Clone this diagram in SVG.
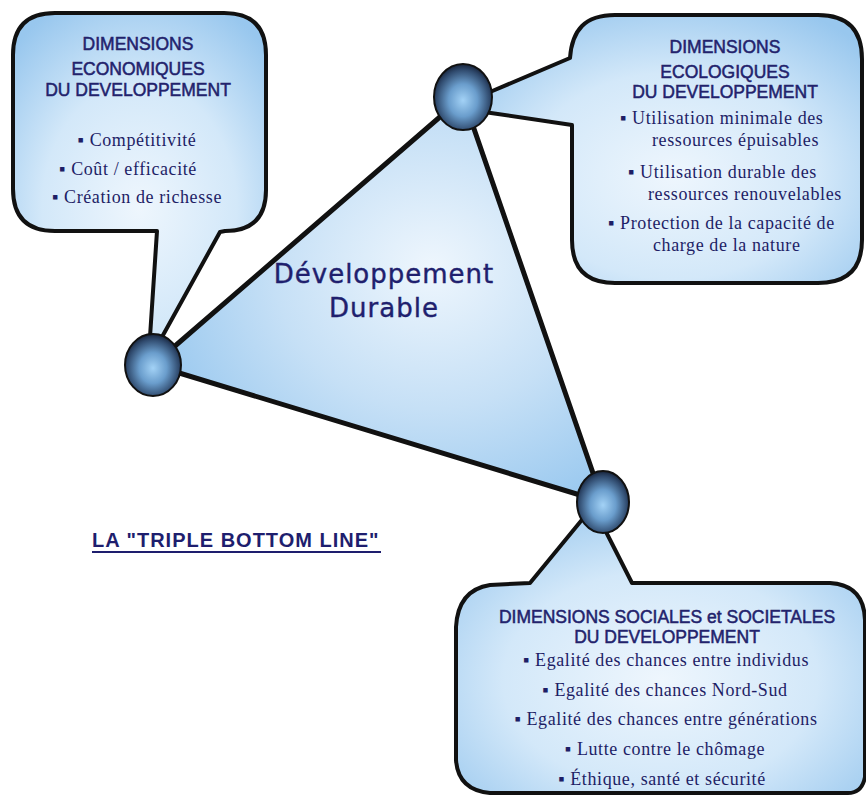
<svg xmlns="http://www.w3.org/2000/svg" width="866" height="796" viewBox="0 0 866 796">
<defs>
<radialGradient id="callout" cx="50%" cy="60%" r="70%">
<stop offset="0" stop-color="#eef6fd"/>
<stop offset="0.55" stop-color="#d3e8f9"/>
<stop offset="1" stop-color="#98c7ee"/>
</radialGradient>
<radialGradient id="tri" cx="62%" cy="42%" r="70%">
<stop offset="0" stop-color="#eef6fd"/>
<stop offset="0.5" stop-color="#c6e0f6"/>
<stop offset="1" stop-color="#93c5ee"/>
</radialGradient>
<radialGradient id="node" cx="50%" cy="55%" r="55%">
<stop offset="0" stop-color="#a3d2f6"/>
<stop offset="0.45" stop-color="#6a9dcc"/>
<stop offset="0.85" stop-color="#2e486b"/>
<stop offset="1" stop-color="#17233a"/>
</radialGradient>
</defs>
<style>
.box{fill:url(#callout);stroke:#111;stroke-width:4;stroke-linejoin:round}
.edge{stroke:#111;stroke-width:5;fill:none;stroke-linecap:round}
.nd{fill:url(#node);stroke:#111;stroke-width:2}
.hd{font-family:"Liberation Sans",Arial,sans-serif;font-size:17.5px;fill:#22226c;stroke:#22226c;stroke-width:0.5;text-anchor:middle}
.bl{font-family:"Liberation Serif","DejaVu Serif",serif;font-size:18px;letter-spacing:0.6px;fill:#1e1e66}
.c{text-anchor:middle}
.title{font-family:"DejaVu Sans",sans-serif;font-size:26px;letter-spacing:1px;fill:#1f1f6e;stroke:#1f1f6e;stroke-width:0.4;text-anchor:middle}
.tbl{font-family:"Liberation Sans",Arial,sans-serif;font-size:20px;font-weight:bold;letter-spacing:1px;fill:#1e1e6e}
</style>
<rect width="866" height="796" fill="#ffffff"/>

<g id="callout-eco">
<path class="box" d="M55,13 H224 Q266,13 266,55 V190 Q266,231 225,231 L220,232 L162,337 L150,337 L157,231 H55 Q13,231 13,189 V55 Q13,13 55,13 Z"/>
<text class="hd" x="138" y="50">DIMENSIONS</text>
<text class="hd" x="138" y="75">ECONOMIQUES</text>
<text class="hd" x="138" y="96">DU DEVELOPPEMENT</text>
<text class="bl c" x="137" y="146">▪ Compétitivité</text>
<text class="bl c" x="128" y="175">▪ Coût / efficacité</text>
<text class="bl c" x="137" y="203">▪ Création de richesse</text>
</g>

<g id="callout-ecol">
<path class="box" d="M570,58 C572,30 585,15 615,15 H818 Q862,15 862,59 V240 Q862,283 818,283 H615 Q572,283 572,240 V125 L484,112 L490,92 Z"/>
<text class="hd" x="725" y="53">DIMENSIONS</text>
<text class="hd" x="725" y="78">ECOLOGIQUES</text>
<text class="hd" x="725" y="98">DU DEVELOPPEMENT</text>
<text class="bl" x="620" y="124">▪ Utilisation minimale des</text>
<text class="bl" x="652" y="146">ressources épuisables</text>
<text class="bl" x="628" y="178">▪ Utilisation durable des</text>
<text class="bl" x="648" y="200">ressources renouvelables</text>
<text class="bl" x="608" y="229">▪ Protection de la capacité de</text>
<text class="bl" x="653" y="251">charge de la nature</text>
</g>

<g id="callout-soc">
<path class="box" d="M600,520 L632,583 H830 Q864,585 865,620 V777 Q862,793 848,793 H490 Q458,790 456,760 V627 Q458,590 490,585 L530,583 L590,510 Z"/>
<text class="hd" x="667" y="623">DIMENSIONS SOCIALES et SOCIETALES</text>
<text class="hd" x="667" y="643">DU DEVELOPPEMENT</text>
<text class="bl c" x="666" y="666">▪ Egalité des chances entre individus</text>
<text class="bl c" x="665" y="696">▪ Egalité des chances Nord-Sud</text>
<text class="bl c" x="666" y="725">▪ Egalité des chances entre générations</text>
<text class="bl c" x="665" y="755">▪ Lutte contre le chômage</text>
<text class="bl c" x="662" y="785">▪ Éthique, santé et sécurité</text>
</g>

<g id="connectors">
<polygon points="153,365 463,97 603,502" fill="url(#tri)" stroke="none"/>
<line class="edge" x1="153" y1="365" x2="463" y2="97"/>
<line class="edge" x1="463" y1="97" x2="603" y2="502"/>
<line class="edge" x1="153" y1="365" x2="603" y2="502"/>
</g>

<g id="center-title">
<text class="title" x="384" y="283">Développement</text>
<text class="title" x="384" y="317">Durable</text>
</g>

<g id="node-eco"><ellipse class="nd" cx="153" cy="365" rx="28" ry="31"/></g>
<g id="node-ecol"><ellipse class="nd" cx="463" cy="97" rx="29" ry="33"/></g>
<g id="node-soc"><ellipse class="nd" cx="603" cy="502" rx="26" ry="31"/></g>

<g id="label-tbl">
<text class="tbl" x="92" y="547">LA "TRIPLE BOTTOM LINE"</text>
<line x1="92" y1="552" x2="381" y2="552" stroke="#1e1e6e" stroke-width="2"/>
</g>
</svg>
